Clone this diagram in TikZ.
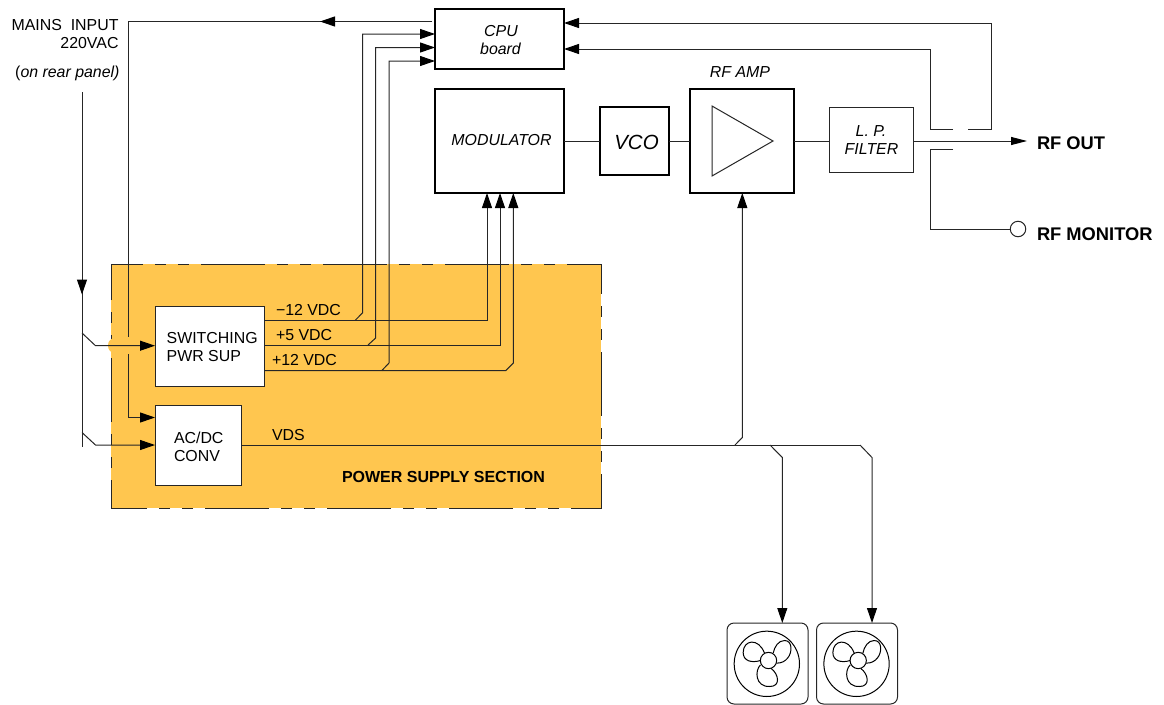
\documentclass[tikz,border=0pt]{standalone}
\usepackage{fontspec}
\setmainfont{Liberation Sans}
\usetikzlibrary{arrows.meta}
\definecolor{psu}{HTML}{FFC64F}
\newcommand{\fs}[1]{\fontsize{#1}{#1}\selectfont}
\tikzset{
  x=1pt,y=-1pt,
  wire/.style={line width=1pt,draw=black!85},
  arr/.style={wire,-{Triangle[length=15pt,width=10pt,color=black]}},
  boxa/.style={draw=black,line width=1.5pt,fill=white,rectangle,inner sep=0pt,outer sep=0pt},
  boxb/.style={draw=black!85,line width=1pt,fill=white,rectangle,inner sep=0pt,outer sep=0pt},
  lab/.style={inner sep=0pt,outer sep=0pt,font=\fs{15.9},anchor=base west},
  labm/.style={inner sep=0pt,outer sep=0pt,font=\fs{15.9},anchor=base},
  labr/.style={inner sep=0pt,outer sep=0pt,font=\fs{15.9},anchor=base east},
  labo/.style={inner sep=0pt,outer sep=0pt,font=\fs{18.3}\bfseries,anchor=base west},
  fanbox/.style={draw=black!85,line width=1pt,rounded corners=7pt,rectangle,outer sep=0pt,minimum width=81pt,minimum height=81pt,inner sep=0pt},
}
\newcommand{\pxbox}[6]{\node[#1,minimum width=#5-#3,minimum height=#6-#4,anchor=north west] (#2) at (#3,#4) {};}
\newcommand{\fanart}[1]{%
  \begin{scope}[shift={(#1)},x=0.3333pt,y=-0.3333pt,line width=1pt,draw=black]
    \draw (-5,10) circle[radius=98];
    \draw (0,0) circle[radius=24.5];
    \draw (-24,0) .. controls (-50,8) and (-76,2) .. (-76,-24) .. controls (-76,-62) and (-30,-70) .. (-12,-22);
    \draw (14,-22) .. controls (18,-42) and (30,-60) .. (48,-60) .. controls (72,-60) and (72,-25) .. (58,-8) .. controls (50,2) and (40,8) .. (24,8);
    \draw (-24,13) .. controls (-42,30) and (-40,80) .. (4,78) .. controls (38,78) and (30,40) .. (8,24);
  \end{scope}}
\begin{document}
\begin{tikzpicture}
\useasboundingbox (0,0) rectangle (1164,704);
% power supply section
\fill[psu] (111,264) rectangle (601,508);
\draw[line width=1pt,draw=black!85,dash pattern=on 64pt off 12pt on 11pt off 12pt on 11pt off 12pt,dash phase=32pt] (111,264) -- (601,264) -- (601,508) -- (111,508) -- cycle;
\fill[psu,rounded corners=7pt] (108,338) rectangle (135,353);
% boxes
\pxbox{boxa}{cpu}{435}{9}{564}{69}
\pxbox{boxa}{mod}{435}{89}{564}{193}
\pxbox{boxa}{vco}{600}{107}{669}{175}
\pxbox{boxa}{amp}{690}{89}{794}{193}
\pxbox{boxb}{lpf}{829}{107}{913}{172}
\pxbox{boxb}{sw}{155}{306}{264}{386}
\pxbox{boxb}{acdc}{155}{405}{241}{485}
\node[fanbox,anchor=north west] (fanA) at (727,623) {};
\node[fanbox,anchor=north west] (fanB) at (816.5,623) {};
\fanart{768.5,660.5}
\fanart{858.2,660.5}
% amplifier triangle
\draw[line width=1pt,draw=black!85] (712,106) -- (773,141) -- (712,176) -- cycle;
% coordinates
\coordinate (mainsTop) at (82,92);
\coordinate (mainsArrow) at (82,294.5);
\coordinate (mainsEnd) at (82,447);
\coordinate (b1a) at (82,333);
\coordinate (b1b) at (95.5,345.7);
\coordinate (b2a) at (82,432.5);
\coordinate (b2b) at (95.5,445);
\coordinate (cpuOut) at (432,21.5);
\coordinate (cpuTip) at (320,21.5);
\coordinate (ctrlCorner) at (128,21.5);
\coordinate (ctrlGapA) at (128,337);
\coordinate (ctrlGapB) at (128,354);
\coordinate (ctrlCorner2) at (128,417.5);
% mains
\draw[wire] (mainsTop) -- (mainsEnd);
\draw[arr] (mainsTop) -- (mainsArrow);
\draw[arr] (b1a) -- (b1b) -- (sw.west |- b1b);
\draw[arr] (b2a) -- (b2b) -- (acdc.west |- b2b);
% cpu control line
\draw[wire] (cpuOut) -- (ctrlCorner) -- (ctrlGapA);
\draw[arr] (cpuOut) -- (cpuTip);
\draw[arr] (ctrlGapB) -- (ctrlCorner2) -- (acdc.west |- ctrlCorner2);
% DC rails
\coordinate (m12) at (sw.east |- 0,320.5);
\coordinate (p5) at (sw.east |- 0,345);
\coordinate (p12) at (sw.east |- 0,370.7);
\draw[arr] (m12) -- (487,320.5) -- (mod.south -| 487,0);
\draw[arr] (p5) -- (500,345) -- (mod.south -| 500,0);
\draw[arr] (p12) -- (505.7,370.7) -- (513.3,363) -- (mod.south -| 513.3,0);
\draw[arr] (355,320.5) -- (362.7,312.7) -- (362.7,34) -- (cpu.west |- 0,34);
\draw[arr] (368,345) -- (375.7,338) -- (375.7,47.5) -- (cpu.west |- 0,47.5);
\draw[arr] (381.7,370.7) -- (389,363) -- (389,61) -- (cpu.west |- 0,61);
% RF chain
\draw[wire] (mod.east |- 0,141) -- (vco.west |- 0,141);
\draw[wire] (vco.east |- 0,141) -- (amp.west |- 0,141);
\draw[wire] (amp.east |- 0,141) -- (lpf.west |- 0,141);
\coordinate (rfOut) at (1027,141);
\draw[wire,-{Triangle[length=16pt,width=8pt,color=black]}] (lpf.east |- 0,141) -- (rfOut);
% couplers
\draw[arr] (953,129.3) -- (930,129.3) -- (930,49) -- (cpu.east |- 0,49);
\draw[arr] (968,129.3) -- (991,129.3) -- (991,23) -- (cpu.east |- 0,23);
\node[circle,draw=black!85,line width=1pt,fill=white,minimum size=15.5pt,inner sep=0pt,outer sep=0pt] (mon) at (1018,229) {};
\draw[wire] (953,149) -- (930,149) -- (930,229) -- (mon.west);
% VDS
\coordinate (vdsEnd) at (860,445);
\draw[wire] (acdc.east |- vdsEnd) -- (vdsEnd);
\draw[arr] (735,445) -- (742.3,437.5) -- (amp.south -| 742.3,0);
\draw[arr] (770,445) -- (782.3,457.5) -- (fanA.north -| 782.3,0);
\draw[arr] (vdsEnd) -- (872,457.5) -- (fanB.north -| 872,0);
% labels
\node[labr] (t1) at (118.5,30.6) {MAINS\ \ INPUT};
\node[labr] (t2) at (118.5,48.7) {220VAC};
\node[labr] (t3) at (119.5,77) {(\itshape on rear panel)};
\node[labm] (t4) at (501,36.7) {\itshape CPU};
\node[labm] (t5) at (500.5,54.2) {\itshape board};
\node[labm] (t6) at (501.5,145) {\itshape MODULATOR};
\node[labm,font=\fs{20.5}] (t7) at (636.5,149) {\itshape VCO};
\node[labm] (t8) at (740,77) {\itshape RF AMP};
\node[labm] (t9) at (871,136) {\itshape L. P.};
\node[labm] (t10) at (871.5,154) {\itshape FILTER};
\node[labo] (t11) at (1037,149) {RF OUT};
\node[labo] (t12) at (1037,240) {RF MONITOR};
\node[lab] (t13) at (276,315) {−12 VDC};
\node[lab] (t14) at (276,340) {+5 VDC};
\node[lab] (t15) at (272,365.7) {+12 VDC};
\node[lab] (t16) at (272,440.7) {VDS};
\node[lab] (t17) at (166.7,343) {SWITCHING};
\node[lab] (t18) at (166.7,361) {PWR SUP};
\node[lab] (t19) at (174,443) {AC/DC};
\node[lab] (t20) at (174,461) {CONV};
\node[lab,font=\fs{16}\bfseries] (t21) at (342,482) {POWER SUPPLY SECTION};
\end{tikzpicture}
\end{document}
